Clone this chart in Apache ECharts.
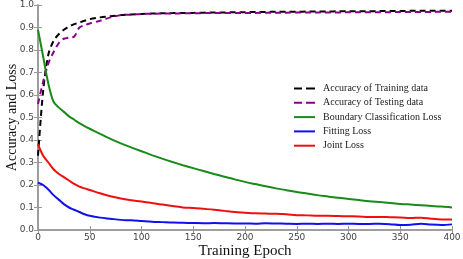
<!DOCTYPE html>
<html><head><meta charset="utf-8">
<script src="https://cdn.jsdelivr.net/npm/echarts@6/dist/echarts.min.js"></script>
<style>html,body{margin:0;padding:0;background:#fff}#c{width:463px;height:259px}</style>
</head><body><div id="c"></div>
<script>
const epochs = [0,5,10,15,20,25,30,35,40,45,50,60,70,80,90,100,110,120,130,140,150,160,170,180,190,200,210,220,230,240,250,260,270,280,290,300,310,320,330,340,350,360,370,380,390,400];
const accTrain = [0.33,0.62,0.78,0.84,0.87,0.89,0.905,0.915,0.922,0.93,0.937,0.945,0.95,0.955,0.958,0.96,0.962,0.963,0.964,0.965,0.965,0.966,0.967,0.967,0.968,0.968,0.969,0.969,0.97,0.97,0.97,0.971,0.971,0.971,0.972,0.972,0.972,0.972,0.973,0.973,0.973,0.974,0.974,0.974,0.975,0.975];
const accTest = [0.56,0.66,0.74,0.79,0.83,0.85,0.855,0.86,0.9,0.91,0.918,0.93,0.945,0.955,0.957,0.96,0.961,0.962,0.962,0.963,0.963,0.964,0.964,0.965,0.965,0.965,0.965,0.966,0.966,0.966,0.967,0.967,0.967,0.967,0.967,0.968,0.968,0.968,0.968,0.968,0.969,0.969,0.969,0.969,0.97,0.97];
const boundLoss = [0.89,0.77,0.65,0.57,0.545,0.525,0.505,0.49,0.475,0.462,0.45,0.427,0.405,0.385,0.367,0.35,0.333,0.317,0.302,0.288,0.275,0.262,0.249,0.237,0.225,0.214,0.204,0.194,0.185,0.177,0.169,0.162,0.155,0.149,0.143,0.138,0.133,0.128,0.124,0.12,0.116,0.113,0.11,0.107,0.104,0.1];
const fitLoss = [0.21,0.2,0.18,0.155,0.135,0.115,0.1,0.09,0.08,0.07,0.063,0.055,0.05,0.045,0.043,0.04,0.037,0.035,0.033,0.032,0.031,0.03,0.031,0.03,0.029,0.029,0.028,0.03,0.029,0.028,0.027,0.028,0.027,0.028,0.027,0.028,0.027,0.027,0.028,0.026,0.022,0.023,0.028,0.024,0.022,0.025];
const jointLoss = [0.38,0.33,0.3,0.27,0.25,0.235,0.22,0.205,0.193,0.185,0.178,0.163,0.15,0.14,0.132,0.127,0.12,0.113,0.107,0.1,0.098,0.094,0.09,0.085,0.08,0.077,0.074,0.073,0.072,0.07,0.066,0.065,0.063,0.063,0.062,0.061,0.06,0.058,0.058,0.057,0.056,0.053,0.055,0.05,0.047,0.047];
const seriesNames = ['Accuracy of Training data','Accuracy of Testing data','Boundary Classification Loss','Fitting Loss','Joint Loss'];
const seriesColors = ['#000000','#8b008b','#1a8a1a','#1010ee','#ee1010'];
const seriesData = [accTrain, accTest, boundLoss, fitLoss, jointLoss];
const dashed = [true,true,false,false,false];

const dashIcon = 'path://M0,0h8v2h-8z M12,0h9v2h-9z';
const solidIcon = 'path://M0,0h21v2h-21z';
const axisColor = '#999';
const chart = echarts.init(document.getElementById('c'));
chart.setOption({
  animation:false,
  grid:{left:38,right:11,top:5,bottom:29,outerBoundsMode:'none',containLabel:false},
  legend:{
    left:289, top:78.5, orient:'vertical', itemGap:4.3, itemWidth:21, itemHeight:2.5,
    textStyle:{fontFamily:'Liberation Serif', fontSize:10, color:'#222', padding:[0,0,0,3]},
    data: seriesNames.map((n,i)=>({name:n, icon: dashed[i]?dashIcon:solidIcon}))
  },
  xAxis:[{
    type:'value', min:0, max:400, interval:50,
    name:'Training Epoch', nameLocation:'middle', nameGap:14, nameMoveOverlap:false,
    nameTextStyle:{fontFamily:'Liberation Serif', fontSize:15, color:'#111'},
    axisLine:{lineStyle:{color:axisColor,width:1.5}},
    axisTick:{inside:true,length:4,lineStyle:{color:axisColor}},
    axisLabel:{fontFamily:'DejaVu Sans', fontSize:9, color:'#444', margin:3},
    splitLine:{show:false}
  },{
    type:'value', position:'top', min:0, max:400, interval:50,
    axisLine:{show:true,lineStyle:{color:axisColor,width:1.5}},
    axisTick:{inside:true,length:4,lineStyle:{color:axisColor}},
    axisLabel:{show:false}, splitLine:{show:false}
  }],
  yAxis:[{
    type:'value', min:0, max:1, interval:0.1,
    name:'Accuracy and Loss', nameLocation:'middle', nameGap:19, nameMoveOverlap:false,
    nameTextStyle:{fontFamily:'Liberation Serif', fontSize:14, color:'#111'},
    axisLine:{show:true,lineStyle:{color:axisColor,width:1.5}},
    axisTick:{show:true,inside:true,length:4,lineStyle:{color:axisColor}},
    axisLabel:{fontFamily:'DejaVu Sans', fontSize:9, color:'#444', margin:4, formatter:v=>v.toFixed(1)},
    splitLine:{show:false}
  },{
    type:'value', position:'right', min:0, max:1, interval:0.1,
    axisLine:{show:true,lineStyle:{color:axisColor,width:1.5}},
    axisTick:{show:true,inside:true,length:4,lineStyle:{color:axisColor}},
    axisLabel:{show:false}, splitLine:{show:false}
  }],
  series: seriesNames.map((n,i)=>({
    name:n, type:'line', showSymbol:false, symbol:'none', smooth:0.3,
    data: epochs.map((e,j)=>[e, seriesData[i][j]]),
    lineStyle:{color:seriesColors[i], width:2, type: dashed[i]?[6,4]:'solid'},
    itemStyle:{color:seriesColors[i]}
  }))
});
</script></body></html>
